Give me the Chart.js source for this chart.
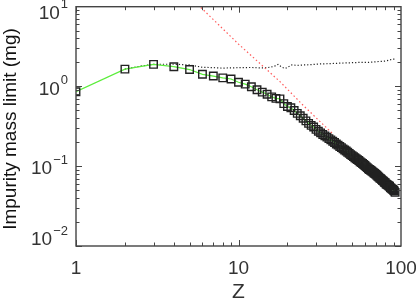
<!DOCTYPE html>
<html>
<head>
<meta charset="utf-8">
<script src="https://cdn.jsdelivr.net/npm/chart.js@4.4.1/dist/chart.umd.min.js"></script>
<style>
  body { margin: 0; background: #fff; }
  #wrap { width: 416px; height: 302px; }
</style>
</head>
<body>
<div id="wrap"><canvas id="massChart" width="416" height="302"></canvas></div>
<script>
// Atomic number Z of each impurity
const zValues = [
    1, 2, 3, 4, 5, 6, 7, 8, 9, 10,
    11, 12, 13, 14, 15, 16, 17, 18, 19, 20,
    21, 22, 23, 24, 25, 26, 27, 28, 29, 30,
    31, 32, 33, 34, 35, 36, 37, 38, 39, 40,
    41, 42, 43, 44, 45, 46, 47, 48, 49, 50,
    51, 52, 53, 54, 55, 56, 57, 58, 59, 60,
    61, 62, 63, 64, 65, 66, 67, 68, 69, 70,
    71, 72, 73, 74, 75, 76, 77, 78, 79, 80,
    81, 82, 83, 84, 85, 86, 87, 88, 89, 90,
    91, 92
];
// Impurity mass limit (mg), squares + green line
const massLimit = [
    0.86, 1.65, 1.89, 1.77, 1.63, 1.42, 1.35, 1.28, 1.24, 1.13,
    1.07, 0.99, 0.91, 0.85, 0.80, 0.74, 0.71, 0.70, 0.61, 0.56,
    0.54, 0.50, 0.46, 0.43, 0.40, 0.37, 0.345, 0.325, 0.31, 0.29,
    0.275, 0.262, 0.25, 0.24, 0.232, 0.222, 0.214, 0.206, 0.198, 0.19,
    0.184, 0.177, 0.171, 0.165, 0.16, 0.155, 0.15, 0.145, 0.14, 0.136,
    0.132, 0.128, 0.124, 0.121, 0.118, 0.114, 0.111, 0.108, 0.105, 0.102,
    0.099, 0.096, 0.093, 0.091, 0.089, 0.087, 0.085, 0.083, 0.081, 0.079,
    0.077, 0.075, 0.073, 0.071, 0.070, 0.068, 0.066, 0.065, 0.063, 0.062,
    0.060, 0.059, 0.058, 0.057, 0.056, 0.054, 0.053, 0.052, 0.051, 0.050,
    0.049, 0.047
];
// black dotted curve
const upperZ = [2, 2.5, 3, 4, 5, 6, 7, 8, 9, 10, 12, 13.5, 15, 16.5, 17.5, 18.5, 19.4, 21.3, 23, 25, 28, 31.7, 36, 42, 48, 55, 62, 68, 74, 80, 85, 88, 92];
const upperLimit = [1.65, 1.8, 1.9, 1.9, 1.86, 1.74, 1.72, 1.7, 1.71, 1.72, 1.73, 1.71, 1.72, 1.78, 1.89, 1.74, 1.68, 1.86, 1.84, 1.86, 1.88, 1.92, 1.93, 1.96, 1.98, 2.0, 2.0, 2.03, 2.06, 2.08, 2.14, 2.2, 2.2];
// red dotted curve
const steepZ = [5.2, 5.8, 10, 18, 25, 35, 38];
const steepLimit = [12.5, 10, 3.4, 1.15, 0.58, 0.3, 0.255];

const yTickValues = [10, 1, 0.1, 0.01];
const yTickExps = ['1', '0', '\u22121', '\u22122'];
const xTickValues = [1, 10, 100];
const xTickLabels = ['1', '10', '100'];

const toPoints = (xs, ys) => xs.map((x, i) => ({ x: x, y: ys[i] }));

// frame, inward ticks and labels (IDL style)
const frameTicks = {
    id: 'frameTicks',
    afterDraw(chart) {
        const ctx = chart.ctx;
        const a = chart.chartArea;
        const xs = chart.scales.x;
        const ys = chart.scales.y;
        ctx.save();
        ctx.strokeStyle = '#444';
        ctx.lineWidth = 1.4;
        ctx.strokeRect(a.left, a.top, a.right - a.left, a.bottom - a.top);

        ctx.lineWidth = 1;
        ctx.beginPath();
        for (let d = 0; d < 2; d++) {
            for (let m = 1; m <= 9; m++) {
                const v = m * Math.pow(10, d);
                const px = Math.round(xs.getPixelForValue(v)) + 0.5;
                const len = m === 1 ? 6 : 3.5;
                ctx.moveTo(px, a.bottom); ctx.lineTo(px, a.bottom - len);
                ctx.moveTo(px, a.top); ctx.lineTo(px, a.top + len);
            }
        }
        for (let d = -2; d < 1; d++) {
            for (let m = 1; m <= 9; m++) {
                const v = m * Math.pow(10, d);
                const py = Math.round(ys.getPixelForValue(v)) + 0.5;
                const len = m === 1 ? 6 : 3.5;
                ctx.moveTo(a.left, py); ctx.lineTo(a.left + len, py);
                ctx.moveTo(a.right, py); ctx.lineTo(a.right - len, py);
            }
        }
        ctx.stroke();

        ctx.fillStyle = '#333';
        ctx.textBaseline = 'middle';
        // y labels 10^n
        yTickValues.forEach((v, i) => {
            let cy = ys.getPixelForValue(v) + 3;
            cy = Math.min(Math.max(cy, 13.5), 240);
            ctx.font = '13px "Liberation Sans", Arial, sans-serif';
            const ew = ctx.measureText(yTickExps[i]).width;
            ctx.textAlign = 'left';
            const right = 68;
            ctx.fillText(yTickExps[i], right - ew, cy - 9);
            ctx.font = '19px "Liberation Sans", Arial, sans-serif';
            ctx.textAlign = 'right';
            ctx.fillText('10', right - ew - 1, cy);
        });
        // x labels
        ctx.font = '19px "Liberation Sans", Arial, sans-serif';
        ctx.textAlign = 'center';
        xTickValues.forEach((v, i) => {
            ctx.fillText(xTickLabels[i], xs.getPixelForValue(v), 269);
        });
        ctx.font = '21px "Liberation Sans", Arial, sans-serif';
        ctx.fillText('Z', (a.left + a.right) / 2, 292);

        // y title
        ctx.translate(16, 129);
        ctx.rotate(-Math.PI / 2);
        ctx.font = '19px "Liberation Sans", Arial, sans-serif';
        ctx.fillStyle = '#111';
        ctx.textAlign = 'center';
        ctx.textBaseline = 'alphabetic';
        ctx.fillText('Impurity mass limit (mg)', 0, 0);
        ctx.restore();
    }
};

let massChart = new Chart(document.getElementById('massChart').getContext('2d'), {
    type: 'line',
    data: {
        datasets: [
            {
                label: 'limit',
                data: toPoints(zValues, massLimit),
                borderColor: '#5ced3c',
                borderWidth: 1.2,
                pointStyle: 'rect',
                pointRadius: 5.3,
                pointBorderColor: '#222',
                pointBackgroundColor: 'rgba(0,0,0,0)',
                pointBorderWidth: 1.4,
            },
            {
                label: 'steep',
                data: toPoints(steepZ, steepLimit),
                borderColor: '#ff5a5a',
                borderWidth: 1.2,
                borderDash: [1.5, 2.5],
                pointRadius: 0,
            },
            {
                label: 'upper',
                data: toPoints(upperZ, upperLimit),
                borderColor: '#222',
                borderWidth: 1.2,
                borderDash: [1.2, 2],
                pointRadius: 0,
            }
        ]
    },
    options: {
        responsive: false,
        animation: false,
        layout: { padding: { left: 76, top: 5, right: 15, bottom: 56 } },
        scales: {
            x: { type: 'logarithmic', min: 1, max: 100, display: false },
            y: { type: 'logarithmic', min: 0.01, max: 10, display: false }
        },
        elements: { line: { tension: 0 } },
        plugins: {
            legend: { display: false },
            tooltip: { enabled: false }
        }
    },
    plugins: [frameTicks]
});
</script>
</body>
</html>
